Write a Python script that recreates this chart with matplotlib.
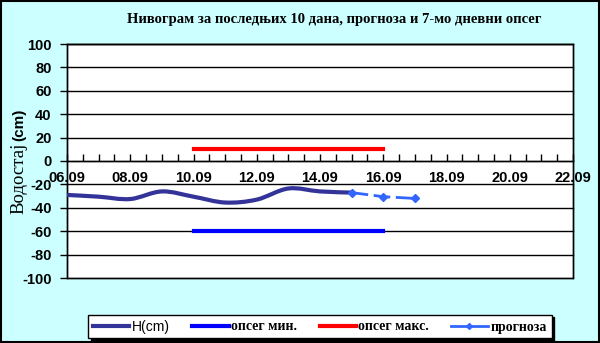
import numpy as np
import matplotlib
matplotlib.use("Agg")
import matplotlib.pyplot as plt
from matplotlib.path import Path
from matplotlib.patches import PathPatch, Rectangle
from matplotlib.lines import Line2D

plt.rcParams["axes.unicode_minus"] = False

# ---- data ----
h_days = [6, 7, 8, 9, 10, 11, 12, 13, 14, 15]
h_vals = [-29, -30.5, -32.5, -26, -30.5, -35.5, -33, -23.5, -26, -27]
range_days = [10, 16]
range_min = [-60, -60]
range_max = [10, 10]
fc_days = [15, 16, 17]
fc_vals = [-27, -30.5, -32]
tick_days = [6, 8, 10, 12, 14, 16, 18, 20, 22]
tick_labels = ["06.09", "08.09", "10.09", "12.09", "14.09", "16.09", "18.09", "20.09", "22.09"]

title = "Нивограм за последњих 10 дана, прогноза и 7-мо дневни опсег"

W, H = 600, 343
fig = plt.figure(figsize=(W/100, H/100), dpi=100)
fig.patch.set_facecolor("#CCFFFF")
fig.patches.append(Rectangle((0.001, 0.002), 0.997, 0.996, transform=fig.transFigure, fill=False,
                             edgecolor="black", linewidth=1.5))

x0, x1 = 67, 573
ytop, ybot = 44, 278
ax = fig.add_axes([x0/W, 1-ybot/H, (x1-x0)/W, (ybot-ytop)/H])
ax.set_facecolor("white")
ax.set_xlim(6, 22)
ax.set_ylim(-100, 100)

for yv in range(-100, 101, 20):
    ax.axhline(yv, color="black", linewidth=1.0, zorder=1, clip_on=False)

for s in ["top", "right", "left"]:
    ax.spines[s].set_linewidth(1.0)
ax.spines["bottom"].set_position(("data", 0))
ax.spines["bottom"].set_linewidth(1.0)
ax.add_patch(Rectangle((0, 0), 1, 1, transform=ax.transAxes, fill=False,
                       edgecolor="black", linewidth=1.0, zorder=3, clip_on=False))

ax.set_yticks(range(-100, 101, 20))
ax.tick_params(axis="y", direction="out", length=5, width=1, pad=6)
for lab in ax.get_yticklabels():
    lab.set_fontfamily("Liberation Sans")
    lab.set_fontweight("bold")
    lab.set_fontsize(10.5)

ax.set_xticks(tick_days)
ax.set_xticklabels(tick_labels)
ax.set_xticks(np.arange(6, 22.01, 0.5), minor=True)
ax.tick_params(axis="x", which="both", direction="in", length=5, width=1, pad=7)
for lab in ax.get_xticklabels():
    lab.set_fontfamily("Liberation Sans")
    lab.set_fontweight("bold")
    lab.set_fontsize(10.5)

# smooth H line (Catmull-Rom -> Bezier)
xs = np.array(h_days, float)
ys = np.array(h_vals, float)
verts = [(xs[0], ys[0])]
codes = [Path.MOVETO]
n = len(xs)
for i in range(n-1):
    p0 = (xs[i-1], ys[i-1]) if i > 0 else (xs[i], ys[i])
    p1 = (xs[i], ys[i])
    p2 = (xs[i+1], ys[i+1])
    p3 = (xs[i+2], ys[i+2]) if i+2 < n else (xs[i+1], ys[i+1])
    c1 = (p1[0] + (p2[0]-p0[0])/6, p1[1] + (p2[1]-p0[1])/6)
    c2 = (p2[0] - (p3[0]-p1[0])/6, p2[1] - (p3[1]-p1[1])/6)
    verts += [c1, c2, p2]
    codes += [Path.CURVE4]*3
ax.add_patch(PathPatch(Path(verts, codes), fill=False, edgecolor="#333399",
                       linewidth=3.0, capstyle="round", zorder=5))

ax.plot(range_days, range_min, color="#0000FF", linewidth=3.0, zorder=5)
ax.plot(range_days, range_max, color="#FF0000", linewidth=3.0, zorder=5)
ax.plot(fc_days, fc_vals, color="#3366FF", linewidth=2.0, linestyle=(0, (6, 2)),
        marker="D", markersize=4, zorder=6)

fig.text(334/W, 1-20/H, title, ha="center", va="center",
         fontfamily="Liberation Serif", fontweight="bold", fontsize=10.5)

fig.text(19/W, 1-143/H, "Водостај", rotation=90, ha="center", va="top",
         fontfamily="Liberation Serif", fontsize=13.5)
fig.text(19/W, 1-141/H, "(cm)", rotation=90, ha="center", va="bottom",
         fontfamily="Liberation Sans", fontweight="bold", fontsize=11)

handles = [
    Line2D([], [], color="#333399", linewidth=3.0),
    Line2D([], [], color="#0000FF", linewidth=3.0),
    Line2D([], [], color="#FF0000", linewidth=3.0),
    Line2D([], [], color="#3366FF", linewidth=2.0, marker="D", markersize=3),
]
labels = ["H(cm)", "опсег мин.", "опсег макс.", "прогноза"]
leg = fig.legend(handles, labels, loc="center", bbox_to_anchor=(320/W, 1-326.5/H), ncol=4,
                 frameon=True, fancybox=False, shadow={"color": "black", "alpha": 1.0, "ox": 2, "oy": -2},
                 edgecolor="black", framealpha=1, handlelength=2.6, columnspacing=1.6,
                 handletextpad=0.2, borderpad=0.35,
                 prop={"family": "Liberation Serif", "weight": "bold", "size": 10})
leg.get_frame().set_linewidth(1.0)
leg.get_texts()[0].set_fontfamily("Liberation Sans")
leg.get_texts()[0].set_fontweight("normal")

fig.savefig("out.png", dpi=100, facecolor=fig.get_facecolor())
